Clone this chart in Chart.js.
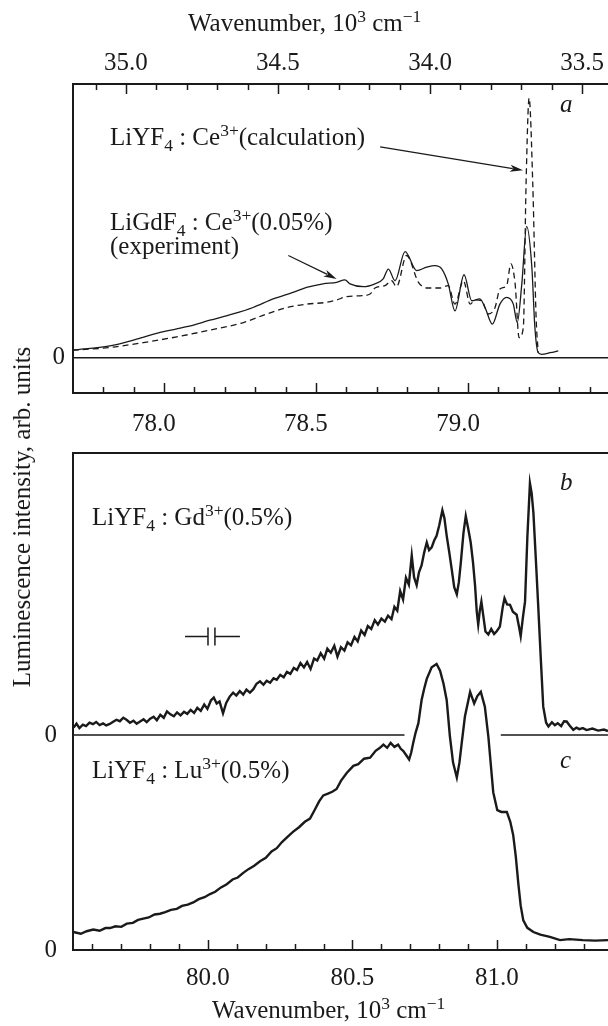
<!DOCTYPE html>
<html>
<head>
<meta charset="utf-8">
<script src="https://cdn.jsdelivr.net/npm/chart.js@4.4.0/dist/chart.umd.min.js"></script>
<style>
  body { margin: 0; background: #fff; width: 608px; height: 1026px; overflow: hidden; position: relative; }
  canvas { position: absolute; left: 0; }
  #ytitle {
    position: absolute; width: 420px; left: -187px; top: 502px; height: 30px; line-height: 30px;
    text-align: center; font: 25px "Liberation Serif"; color: #1a1a1a;
    transform: rotate(-90deg); white-space: nowrap;
  }
</style>
</head>
<body>
<canvas id="chartA" width="608" height="440" style="top:0"></canvas>
<canvas id="chartB" width="608" height="596" style="top:430px"></canvas>
<div id="ytitle">Luminescence intensity, arb. units</div>
<script>
// panel a: LiGdF4:Ce3+ experiment (solid) and LiYF4:Ce3+ calculation (dashed)
const expX = [77.700, 77.822, 77.910, 77.987, 78.075, 78.151, 78.227, 78.293, 78.359, 78.424, 78.469, 78.523,
  78.568, 78.595, 78.612, 78.656, 78.694, 78.721, 78.738, 78.760, 78.793, 78.831, 78.864, 78.891, 78.914,
  78.935, 78.957, 78.987, 79.012, 79.039, 79.056, 79.080, 79.105, 79.127, 79.149, 79.162, 79.177, 79.193,
  79.210, 79.220, 79.231, 79.242, 79.270, 79.297];
const expY = [3.0, 4.6, 7.2, 9.8, 12.0, 14.5, 16.9, 19.4, 22.7, 25.2, 27.1, 28.5,
  29.1, 30.0, 28.5, 27.4, 28.5, 30.4, 34.2, 29.7, 40.9, 33.6, 34.9, 35.5, 34.2,
  28.5, 18.1, 32.0, 22.0, 22.7, 19.4, 13.0, 20.7, 23.3, 20.7, 13.6, 28.5, 50.6,
  34.9, 11.7, 2.0, 1.4, 2.0, 2.7];
const calcX = [77.700, 77.822, 77.932, 78.042, 78.151, 78.261, 78.338, 78.404, 78.469, 78.535, 78.568, 78.601,
  78.645, 78.678, 78.694, 78.727, 78.749, 78.765, 78.798, 78.837, 78.864, 78.908, 78.935, 78.957, 78.985,
  79.007, 79.023, 79.045, 79.067, 79.089, 79.105, 79.127, 79.141, 79.155, 79.168, 79.182, 79.191, 79.201,
  79.213, 79.224, 79.231];
const calcY = [3.0, 4.0, 5.9, 8.1, 10.7, 13.6, 16.9, 19.4, 20.7, 21.4, 22.3, 23.6,
  23.9, 24.6, 26.9, 27.8, 29.7, 27.4, 39.4, 29.1, 26.9, 26.9, 27.8, 20.7, 29.7,
  20.7, 22.3, 22.0, 16.9, 19.4, 26.5, 27.8, 36.2, 28.5, 7.8, 11.7, 67.0, 100.0,
  67.0, 15.6, 2.0];

// panel b: LiYF4:Gd3+ (0.5%)
const gdX = [79.535, 79.545, 79.555, 79.567, 79.578, 79.590, 79.602, 79.613, 79.625, 79.637, 79.648, 79.660,
  79.672, 79.683, 79.695, 79.707, 79.718, 79.730, 79.742, 79.753, 79.765, 79.777, 79.788, 79.800, 79.812,
  79.823, 79.835, 79.847, 79.858, 79.870, 79.882, 79.893, 79.905, 79.917, 79.928, 79.940, 79.952, 79.963,
  79.975, 79.987, 79.998, 80.010, 80.020, 80.030, 80.040, 80.052, 80.063, 80.075, 80.087, 80.098, 80.110,
  80.122, 80.133, 80.145, 80.157, 80.168, 80.180, 80.192, 80.203, 80.215, 80.227, 80.238, 80.250, 80.262,
  80.273, 80.285, 80.297, 80.308, 80.320, 80.332, 80.343, 80.355, 80.367, 80.378, 80.390, 80.402, 80.413,
  80.425, 80.437, 80.448, 80.460, 80.472, 80.483, 80.495, 80.507, 80.518, 80.530, 80.542, 80.553, 80.565,
  80.577, 80.588, 80.600, 80.612, 80.623, 80.635, 80.645, 80.655, 80.665, 80.675, 80.685, 80.695, 80.705,
  80.713, 80.722, 80.730, 80.739, 80.748, 80.757, 80.765, 80.774, 80.783, 80.791, 80.800, 80.811, 80.818,
  80.826, 80.835, 80.843, 80.852, 80.861, 80.868, 80.875, 80.884, 80.892, 80.900, 80.909, 80.917, 80.924,
  80.930, 80.935, 80.940, 80.946, 80.953, 80.960, 80.970, 80.980, 80.990, 80.999, 81.010, 81.020, 81.026,
  81.035, 81.045, 81.055, 81.068, 81.076, 81.082, 81.090, 81.097, 81.105, 81.114, 81.120, 81.126, 81.135,
  81.143, 81.152, 81.160, 81.170, 81.178, 81.190, 81.200, 81.210, 81.222, 81.232, 81.241, 81.252, 81.264,
  81.275, 81.285, 81.297, 81.310, 81.330, 81.350, 81.370, 81.384];
const gdY = [3.0, 4.6, 2.8, 4.2, 3.6, 5.0, 4.4, 5.3, 4.0, 4.7, 3.9, 4.5,
  5.4, 6.2, 5.6, 7.0, 6.2, 5.0, 5.8, 4.6, 5.5, 6.4, 5.2, 6.6, 7.4,
  6.0, 8.2, 7.0, 9.6, 8.4, 7.6, 9.2, 8.0, 9.4, 8.6, 10.2, 9.0, 11.0,
  9.8, 12.4, 10.6, 14.0, 15.2, 12.8, 13.6, 8.8, 13.0, 15.6, 17.2, 16.0, 17.8,
  16.4, 18.4, 17.2, 18.6, 20.8, 21.8, 20.4, 22.0, 21.2, 23.0, 22.4, 24.4, 23.4,
  25.6, 24.8, 27.2, 26.4, 29.2, 27.4, 29.6, 26.8, 31.0, 30.2, 33.2, 31.0, 35.0,
  33.4, 36.2, 31.8, 35.6, 34.2, 37.6, 36.4, 39.8, 38.0, 42.4, 40.6, 44.2, 43.0,
  46.6, 44.8, 47.2, 46.0, 48.4, 47.0, 52.0, 50.4, 58.4, 55.0, 63.8, 61.0, 72.8,
  64.0, 60.8, 66.0, 68.8, 74.0, 78.1, 75.0, 76.1, 79.0, 80.8, 85.0, 91.2, 88.0,
  80.8, 74.0, 67.5, 60.0, 57.1, 62.0, 70.1, 82.0, 88.8, 84.0, 78.1, 70.0, 60.8,
  50.0, 44.8, 50.0, 54.1, 48.0, 42.0, 40.8, 43.0, 41.0, 42.1, 44.0, 52.0, 55.5,
  53.0, 52.8, 50.0, 48.8, 44.0, 40.1, 48.0, 54.1, 80.0, 102.1, 98.0, 90.1, 70.0,
  51.5, 30.0, 11.5, 5.0, 3.5, 5.2, 4.0, 4.8, 3.6, 5.6, 5.5, 3.8, 2.1,
  3.0, 2.4, 2.8, 2.0, 2.6, 1.8, 2.2, 1.6];
// zero line of trace b, broken where trace c passes through it
const gdZeroX = [79.533, 80.680, 80.850, 81.013, 81.384];
const gdZeroY = [0, 0, null, 0, 0];

// panel c: LiYF4:Lu3+ (0.5%)
const luX = [79.534, 79.560, 79.580, 79.603, 79.625, 79.645, 79.661, 79.680, 79.700, 79.719, 79.740, 79.758,
  79.776, 79.795, 79.815, 79.834, 79.852, 79.872, 79.892, 79.910, 79.930, 79.949, 79.968, 79.988, 80.007,
  80.025, 80.045, 80.065, 80.085, 80.103, 80.122, 80.140, 80.160, 80.180, 80.200, 80.220, 80.238, 80.256,
  80.276, 80.295, 80.315, 80.335, 80.353, 80.370, 80.385, 80.399, 80.415, 80.430, 80.445, 80.460, 80.480,
  80.503, 80.520, 80.540, 80.561, 80.580, 80.595, 80.607, 80.620, 80.632, 80.645, 80.658, 80.667, 80.676,
  80.686, 80.696, 80.703, 80.710, 80.718, 80.728, 80.739, 80.748, 80.757, 80.774, 80.791, 80.803, 80.815,
  80.826, 80.837, 80.848, 80.861, 80.870, 80.878, 80.889, 80.907, 80.921, 80.932, 80.944, 80.958, 80.970,
  80.987, 81.001, 81.015, 81.034, 81.046, 81.056, 81.065, 81.074, 81.082, 81.091, 81.105, 81.126, 81.150,
  81.183, 81.218, 81.250, 81.297, 81.340, 81.384];
const luY = [7.3, 6.6, 7.6, 8.3, 7.8, 8.9, 8.9, 9.6, 9.4, 10.7, 11.0, 12.2,
  12.7, 13.2, 14.4, 14.7, 15.4, 16.3, 16.7, 17.9, 18.4, 19.3, 20.6, 21.4, 22.7,
  23.6, 25.4, 26.7, 28.6, 29.4, 31.3, 32.8, 34.2, 36.0, 37.4, 40.0, 41.3, 43.8,
  46.0, 48.0, 49.8, 52.0, 53.3, 57.0, 60.4, 62.7, 63.4, 64.2, 65.3, 68.6, 71.8,
  74.7, 75.4, 77.6, 78.0, 80.8, 82.0, 83.3, 82.0, 84.0, 82.4, 83.3, 81.6, 80.7,
  79.0, 77.3, 80.0, 84.0, 88.0, 92.0, 101.3, 106.0, 110.0, 114.7, 116.0, 113.3, 108.0,
  101.3, 86.7, 76.0, 70.0, 76.0, 84.0, 94.7, 104.7, 100.0, 103.0, 104.7, 98.7, 86.7,
  64.0, 56.7, 56.0, 56.0, 52.0, 46.7, 38.0, 26.7, 18.0, 12.0, 9.0, 7.3, 6.2,
  5.3, 4.0, 4.4, 4.0, 3.8, 4.0];

// vertical offset of trace b above trace c
const offsetB = 87.2;

// arrows in panel a (data coordinates): [fromX, fromY, toX, toY]
const arrowsA = [[78.711, 81.2, 79.181, 72.2], [78.409, 39.4, 78.568, 30.4]];
// spectral resolution marker in panel b: [x1, x2, y]
const resolutionB = [80.0, 80.024, 40.0];

const FONT = '"Liberation Serif", "Times New Roman", serif';
const INK = '#1a1a1a';

function pts(xs, ys) { return xs.map((x, i) => ({ x: x, y: ys[i] })); }
function isMajor(v) { return Math.abs(v * 2 - Math.round(v * 2)) < 1e-6; }

function rich(ctx, x, y, parts, size) {
  let cx = x;
  for (const [t, k] of parts) {
    const fs = k ? size * 0.7 : size;
    ctx.font = fs + 'px ' + FONT;
    const dy = k === 'sub' ? size * 0.22 : k === 'sup' ? -size * 0.38 : 0;
    ctx.fillText(t, cx, y + dy);
    cx += ctx.measureText(t).width;
  }
}

function drawFrame(chart) {
  const { ctx, chartArea: { left, top, right, bottom } } = chart;
  ctx.save();
  ctx.strokeStyle = INK;
  ctx.lineWidth = 2;
  ctx.beginPath();
  ctx.moveTo(right + 5, top); ctx.lineTo(left, top); ctx.lineTo(left, bottom); ctx.lineTo(right + 5, bottom);
  ctx.stroke();
  ctx.restore();
}

function drawTicks(chart, id, atTop) {
  const { ctx, chartArea } = chart;
  const s = chart.scales[id];
  ctx.save();
  ctx.strokeStyle = INK;
  ctx.lineWidth = 1.5;
  s.ticks.forEach(t => {
    const px = Math.round(s.getPixelForValue(t.value)) + 0.5;
    const len = isMajor(t.value) ? 10 : 6;
    const y0 = atTop ? chartArea.top : chartArea.bottom;
    ctx.beginPath();
    ctx.moveTo(px, y0);
    ctx.lineTo(px, atTop ? y0 + len : y0 - len);
    ctx.stroke();
  });
  ctx.restore();
}

function arrow(ctx, x1, y1, x2, y2) {
  const a = Math.atan2(y2 - y1, x2 - x1);
  const hl = 13, hw = 3.5;
  ctx.beginPath();
  ctx.moveTo(x1, y1);
  ctx.lineTo(x2 - hl * 0.8 * Math.cos(a), y2 - hl * 0.8 * Math.sin(a));
  ctx.stroke();
  ctx.beginPath();
  ctx.moveTo(x2, y2);
  ctx.lineTo(x2 - hl * Math.cos(a) + hw * Math.sin(a), y2 - hl * Math.sin(a) - hw * Math.cos(a));
  ctx.lineTo(x2 - hl * 0.75 * Math.cos(a), y2 - hl * 0.75 * Math.sin(a));
  ctx.lineTo(x2 - hl * Math.cos(a) - hw * Math.sin(a), y2 - hl * Math.sin(a) + hw * Math.cos(a));
  ctx.closePath();
  ctx.fill();
}

const tickFont = { family: FONT, size: 25 };
const xTicks = (pad, offset) => ({
  stepSize: 0.1, includeBounds: false, autoSkip: false, maxRotation: 0,
  font: tickFont, color: INK, padding: pad, labelOffset: offset || 0,
  callback: v => isMajor(v) ? v.toFixed(1) : ''
});

// top panel (a)
const plugA = {
  id: 'decorA',
  afterDraw(chart) {
    const ctx = chart.ctx;
    drawFrame(chart);
    drawTicks(chart, 'x', false);
    drawTicks(chart, 'x2', true);
    const sx = chart.scales.x, sy = chart.scales.y;
    ctx.save();
    ctx.fillStyle = INK; ctx.strokeStyle = INK; ctx.lineWidth = 1.2;
    arrowsA.forEach(a => arrow(ctx, sx.getPixelForValue(a[0]), sy.getPixelForValue(a[1]),
      sx.getPixelForValue(a[2]), sy.getPixelForValue(a[3])));
    ctx.textBaseline = 'alphabetic';
    rich(ctx, 188, 31, [['Wavenumber, 10', ''], ['3', 'sup'], [' cm', ''], ['\u22121', 'sup']], 25);
    rich(ctx, 110, 145, [['LiYF', ''], ['4', 'sub'], [' : Ce', ''], ['3+', 'sup'], ['(calculation)', '']], 25);
    rich(ctx, 110, 230, [['LiGdF', ''], ['4', 'sub'], [' : Ce', ''], ['3+', 'sup'], ['(0.05%)', '']], 25);
    rich(ctx, 110, 254, [['(experiment)', '']], 25);
    ctx.font = 'italic 25px ' + FONT;
    ctx.fillText('a', 560, 112);
    ctx.restore();
  }
};

new Chart(document.getElementById('chartA'), {
  type: 'line',
  data: {
    datasets: [
      { data: pts(expX, expY), borderColor: INK, borderWidth: 1.3, pointRadius: 0, cubicInterpolationMode: 'monotone' },
      { data: pts(calcX, calcY), borderColor: INK, borderWidth: 1.3, borderDash: [6, 4], pointRadius: 0, cubicInterpolationMode: 'monotone' }
    ]
  },
  options: {
    responsive: false, animation: false,
    layout: { padding: 0 },
    plugins: { legend: { display: false }, tooltip: { enabled: false } },
    scales: {
      x: {
        type: 'linear', position: 'bottom', min: 77.7007, max: 79.4605,
        ticks: xTicks(8, -10), grid: { display: false }, border: { display: false },
        afterFit: s => { s.height = 47; }
      },
      x2: {
        type: 'linear', axis: 'x', position: 'top', reverse: true, min: 33.4145, max: 35.1743,
        ticks: xTicks(-2), grid: { display: false }, border: { display: false },
        afterFit: s => { s.height = 84; }
      },
      y: {
        type: 'linear', min: -13.5, max: 105.4,
        afterBuildTicks: s => { s.ticks = [{ value: 0 }]; },
        ticks: { font: tickFont, color: INK, padding: 8, callback: () => '0' },
        grid: { color: INK, lineWidth: 1.5, drawTicks: false }, border: { display: false },
        afterFit: s => { s.width = 73; }
      }
    }
  },
  plugins: [plugA]
});

// bottom panel (b, c)
const plugB = {
  id: 'decorB',
  afterDraw(chart) {
    const ctx = chart.ctx;
    drawFrame(chart);
    drawTicks(chart, 'x', false);
    const sx = chart.scales.x, sy = chart.scales.yB;
    ctx.save();
    ctx.fillStyle = INK; ctx.strokeStyle = INK; ctx.lineWidth = 1.5;
    const r1 = sx.getPixelForValue(resolutionB[0]), r2 = sx.getPixelForValue(resolutionB[1]);
    const ry = Math.round(sy.getPixelForValue(resolutionB[2])) + 0.5;
    ctx.beginPath();
    ctx.moveTo(r1 - 23, ry); ctx.lineTo(r1, ry);
    ctx.moveTo(r1, ry - 9); ctx.lineTo(r1, ry + 9);
    ctx.moveTo(r2, ry - 9); ctx.lineTo(r2, ry + 9);
    ctx.moveTo(r2, ry); ctx.lineTo(r2 + 25, ry);
    ctx.stroke();
    ctx.textBaseline = 'alphabetic';
    rich(ctx, 92, 95, [['LiYF', ''], ['4', 'sub'], [' : Gd', ''], ['3+', 'sup'], ['(0.5%)', '']], 25);
    rich(ctx, 92, 348, [['LiYF', ''], ['4', 'sub'], [' : Lu', ''], ['3+', 'sup'], ['(0.5%)', '']], 25);
    rich(ctx, 212, 588, [['Wavenumber, 10', ''], ['3', 'sup'], [' cm', ''], ['\u22121', 'sup']], 25);
    ctx.font = 'italic 25px ' + FONT;
    ctx.fillText('b', 560, 60);
    ctx.fillText('c', 560, 338);
    ctx.restore();
  }
};

new Chart(document.getElementById('chartB'), {
  type: 'line',
  data: {
    datasets: [
      { data: pts(gdX, gdY), yAxisID: 'yB', borderColor: INK, borderWidth: 2.4, pointRadius: 0 },
      { data: pts(gdZeroX, gdZeroY), yAxisID: 'yB', borderColor: INK, borderWidth: 1.4, pointRadius: 0, spanGaps: false },
      { data: pts(luX, luY), yAxisID: 'yC', borderColor: INK, borderWidth: 2.4, pointRadius: 0 }
    ]
  },
  options: {
    responsive: false, animation: false,
    layout: { padding: { top: 16, left: 0, right: 0, bottom: 0 } },
    plugins: { legend: { display: false }, tooltip: { enabled: false } },
    scales: {
      x: {
        type: 'linear', position: 'bottom', min: 79.5329, max: 81.3841,
        ticks: xTicks(5), grid: { display: false }, border: { display: false },
        afterFit: s => { s.height = 76; }
      },
      yC: {
        type: 'linear', position: 'left', min: 0, max: 201.6,
        afterBuildTicks: s => { s.ticks = [{ value: 0 }, { value: offsetB }]; },
        ticks: { font: tickFont, color: INK, padding: 8, callback: () => '0' },
        grid: { display: false }, border: { display: false },
        afterFit: s => { s.width = 73; }
      },
      yB: {
        type: 'linear', position: 'left', display: false, min: -offsetB, max: 201.6 - offsetB
      }
    }
  },
  plugins: [plugB]
});
</script>
</body>
</html>
